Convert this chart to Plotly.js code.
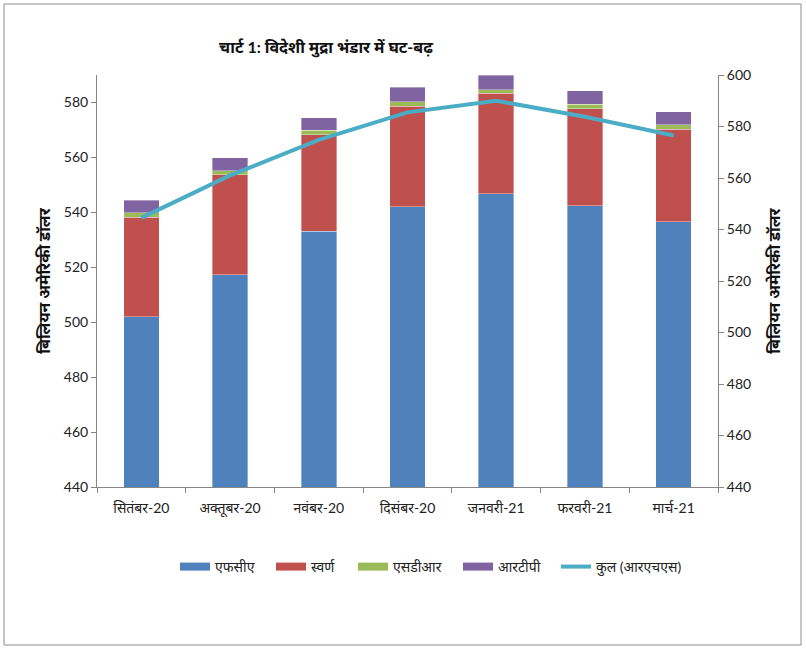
<!DOCTYPE html>
<html>
<head>
<meta charset="utf-8">
<script src="https://cdn.plot.ly/plotly-3.0.1.min.js"></script>
<style>
html,body{margin:0;padding:0;background:#fff;}
#chart{width:806px;height:650px;}
</style>
</head>
<body>
<div id="chart"></div>
<script>
const categories = ["सितंबर-20","अक्तूबर-20","नवंबर-20","दिसंबर-20","जनवरी-21","फरवरी-21","मार्च-21"];
const fca   = [501.9, 517.3, 533.2, 542.0, 546.8, 542.4, 536.5];
const gold  = [36.3, 36.4, 35.0, 36.6, 36.5, 35.3, 33.7];
const sdr   = [1.6, 1.5, 1.6, 1.6, 1.4, 1.6, 1.7];
const rtp   = [4.6, 4.7, 4.7, 5.3, 5.3, 5.0, 4.8];
const total = [544.5, 561.0, 574.8, 585.5, 590.0, 583.8, 576.5];
const seriesNames = ["एफसीए","स्वर्ण","एसडीआर","आरटीपी","कुल (आरएचएस)"];
const leftTicks = [440,460,480,500,520,540,560,580];
const rightTicks = [440,460,480,500,520,540,560,580,600];

const colors = ["#4F81BD","#C0504D","#9BBB59","#8064A2","#4BACC6"];
const FONT = "Lato, 'Noto Sans', 'DejaVu Sans', sans-serif";

const barSeries = [fca, gold, sdr, rtp];
const traces = [];
barSeries.forEach((vals, i) => {
  traces.push({
    type: "bar",
    x: categories,
    y: vals,
    name: seriesNames[i],
    showlegend: false,
    marker: {color: colors[i], line: {color: "rgba(255,255,255,0.6)", width: 0.6}},
    yaxis: "y"
  });
});
traces.push({
  type: "scatter",
  mode: "lines",
  x: categories,
  y: total,
  name: seriesNames[4],
  showlegend: false,
  yaxis: "y2",
  line: {color: colors[4], width: 4}
});
// legend entries drawn as wide swatches, one legend box per entry
const legendIds = ["legend","legend2","legend3","legend4","legend5"];
seriesNames.forEach((nm, i) => {
  traces.push({
    type: "scatter", mode: "lines",
    x: [null], y: [null],
    name: nm,
    showlegend: true,
    legend: legendIds[i],
    yaxis: i === 4 ? "y2" : "y",
    line: {color: colors[i], width: i === 4 ? 4 : 8}
  });
});

const L = 97, R = 718, T = 75, B = 487;
const pw = R - L, ph = B - T;
const px = v => (v - L) / pw;
const py = v => (B - v) / ph;

const axisCommon = {
  showline: true, linecolor: "#868686", linewidth: 1,
  ticks: "outside", ticklen: 5, tickcolor: "#868686",
  showgrid: false, zeroline: false,
  tickfont: {family: FONT, size: 14, color: "#222"}
};

const layout = {
  width: 806, height: 650,
  margin: {l: L, r: 806 - R, t: T, b: 650 - B, pad: 0},
  paper_bgcolor: "#fff", plot_bgcolor: "#fff",
  barmode: "stack",
  bargap: 0.6,
  showlegend: true,
  font: {family: FONT, size: 14, color: "#222"},
  title: {
    text: "<b>चार्ट 1: विदेशी मुद्रा भंडार में घट-बढ़</b>",
    font: {family: FONT, size: 16, color: "#111"},
    x: 326 / 806, xref: "container", xanchor: "center",
    y: 1 - 47 / 650, yref: "container", yanchor: "middle"
  },
  xaxis: Object.assign({}, axisCommon, {
    type: "category",
    tickson: "boundaries",
    ticklabelstandoff: 8
  }),
  yaxis: Object.assign({}, axisCommon, {
    range: [440, 590],
    tickvals: leftTicks,
    title: {text: "<b>बिलियन अमेरिकी डॉलर</b>", font: {family: FONT, size: 16, color: "#111"}, standoff: 9}
  }),
  yaxis2: Object.assign({}, axisCommon, {
    range: [440, 600],
    tickvals: rightTicks,
    overlaying: "y", side: "right",
    title: {text: "<b>बिलियन अमेरिकी डॉलर</b>", font: {family: FONT, size: 16, color: "#111"}, standoff: 18}
  }),
  shapes: [{
    type: "rect", xref: "paper", yref: "paper",
    x0: px(4), x1: px(801), y0: py(645), y1: py(4),
    line: {color: "#8c8c8c", width: 1}, fillcolor: "rgba(0,0,0,0)", layer: "below"
  }]
};

const swatchStarts = [182, 278, 360, 465, 563];
legendIds.forEach((id, i) => {
  layout[id] = {
    orientation: "h",
    x: px(swatchStarts[i] - 7), xanchor: "left",
    y: py(567), yanchor: "middle",
    font: {family: FONT, size: 14, color: "#222"},
    itemwidth: 30,
    bgcolor: "rgba(0,0,0,0)"
  };
});

Plotly.newPlot("chart", traces, layout, {displayModeBar: false, staticPlot: true});
</script>
</body>
</html>
